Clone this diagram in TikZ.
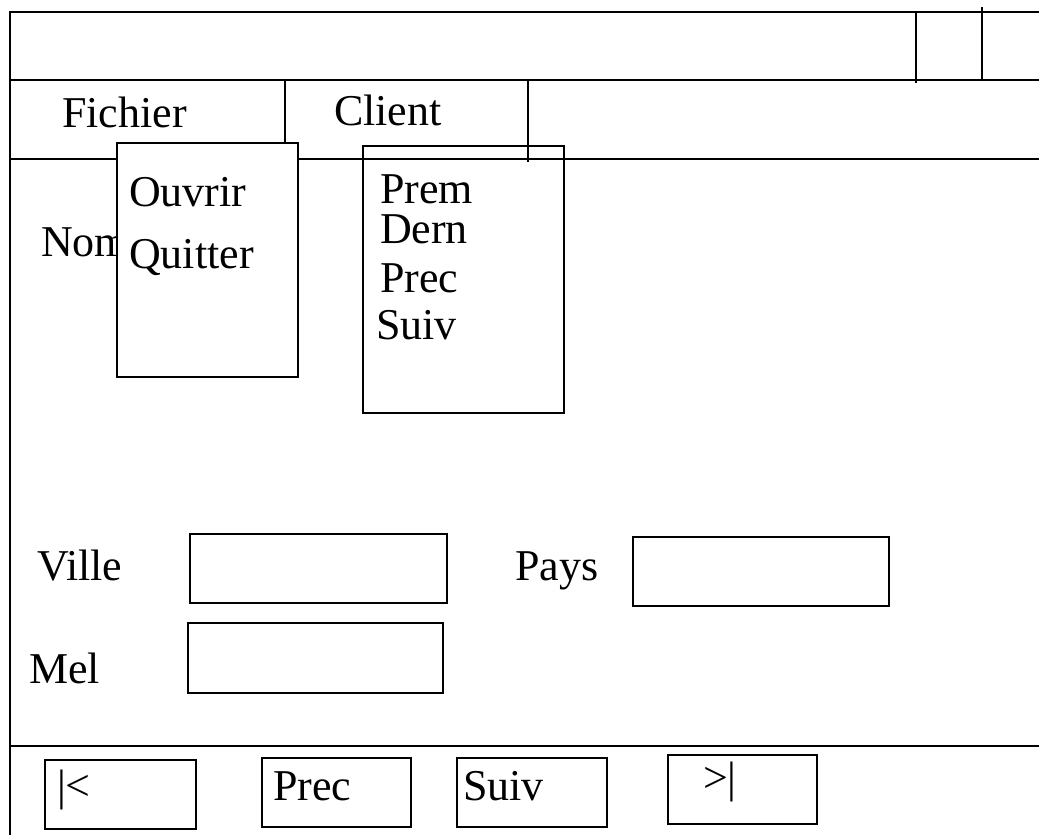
\documentclass[tikz,border=0pt]{standalone}
\usepackage{fontspec}
\setmainfont{Liberation Serif}
\begin{document}
\begin{tikzpicture}[x=0.5pt,y=-0.5pt,line width=1pt,lbl/.style={anchor=base west,inner sep=0pt,font=\fontsize{22}{26}\selectfont},field/.style={shape=rectangle,draw=black,inner sep=0pt},menuM/.style={field,fill=white},btn/.style={field,minimum height=34.5pt}]
\def\wr{1039}
\useasboundingbox (0,0) rectangle (1039,835);

% window frame
\draw (\wr,12) -- (10,12) -- (10,835);
\draw (10,80) -- (\wr,80);
\draw (10,159) -- (\wr,159);
\draw (10,746) -- (\wr,746);
\draw (916,12) -- (916,83);
\draw (982,7) -- (982,80);

% menu bar
\draw (285,80) -- (285,159);
\node[lbl] (fichier) at (61,127) {Fichier};
\node[lbl] (client) at (333,125) {Client};

\node[lbl] (nom) at (40,256) {Nom};

% drop-down menus
\node[menuM,minimum width=90.5pt,minimum height=117pt] (mFichier) at (207.5,260) {};
\node[lbl] (ouvrir) at (128,206) {Ouvrir};
\node[lbl] (quitter) at (128,268) {Quitter};

\node[field,minimum width=100.5pt,minimum height=133.5pt] (mClient) at (463.5,279.5) {};
\draw (528,80) -- (528,162);
\node[lbl] (prem) at (379,203) {Prem};
\node[lbl] (dern) at (379,243) {Dern};
\node[lbl] (precM) at (379,292) {Prec};
\node[lbl] (suivM) at (375,339) {Suiv};

% fields
\node[lbl] (ville) at (36,580) {Ville};
\node[field,minimum width=128.5pt,minimum height=34.5pt] (villeF) at (318.5,568.5) {};
\node[lbl] (pays) at (514,580) {Pays};
\node[field,minimum width=128pt,minimum height=34.5pt] (paysF) at (761,571.5) {};
\node[lbl] (mel) at (28,683) {Mel};
\node[field,minimum width=127.5pt,minimum height=35pt] (melF) at (315.5,658) {};

% buttons
\node[btn,minimum width=75.5pt] (first) at (120.5,794.5) {};
\node[lbl] (firstT) at (56,800) {|<};
\node[btn,minimum width=74.5pt] (prev) at (336.5,792.5) {};
\node[lbl] (prevT) at (272,800) {Prec};
\node[btn,minimum width=75pt] (next) at (532,792.5) {};
\node[lbl] (nextT) at (462,800) {Suiv};
\node[btn,minimum width=74.5pt] (last) at (742.5,789.5) {};
\node[lbl] (lastT) at (702,792) {>|};
\end{tikzpicture}
\end{document}
